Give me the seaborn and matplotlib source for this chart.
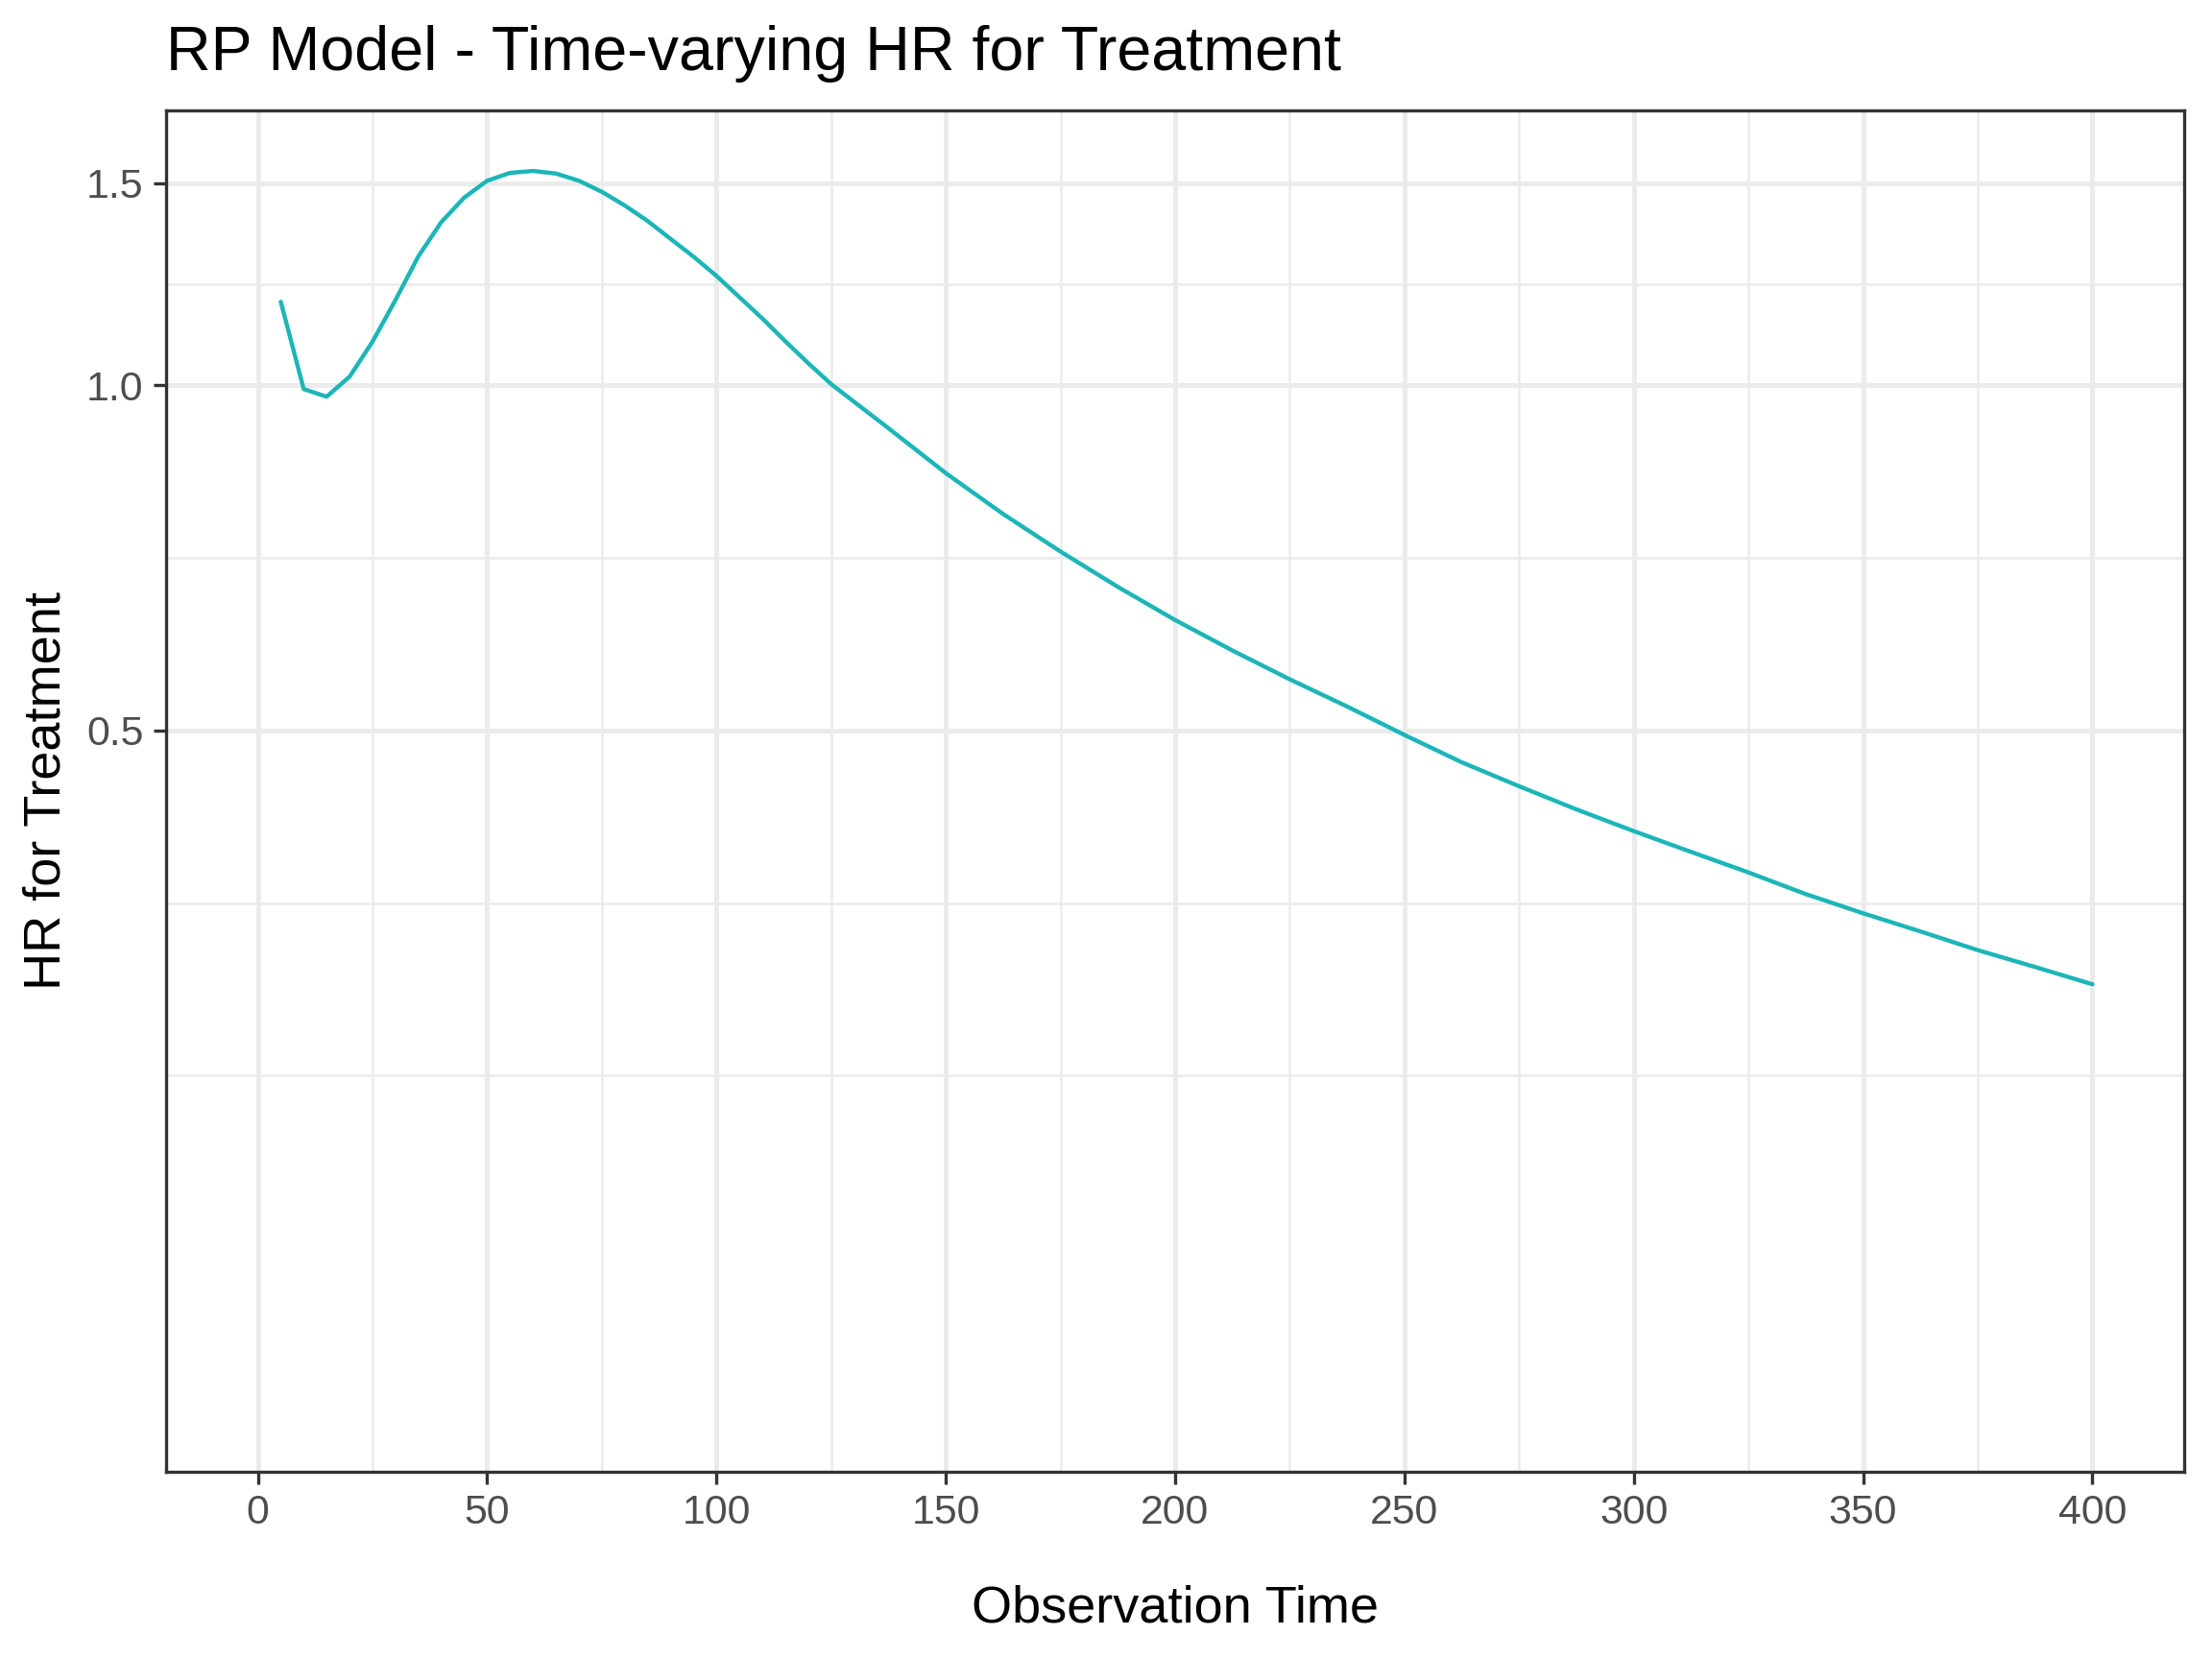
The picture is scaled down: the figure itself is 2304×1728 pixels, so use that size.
import matplotlib
matplotlib.use("Agg")
import pandas as pd
import matplotlib.pyplot as plt
import matplotlib.ticker as mticker
import seaborn as sns

# ------------------- datos

time = [5, 10, 15, 20, 25, 30, 35, 40, 45, 50, 55, 60, 65, 70, 75, 80, 85, 90,
        95, 100, 105, 110, 115, 120, 125, 137.5, 150, 162.5, 175, 187.5, 200,
        212.5, 225, 237.5, 250, 262.5, 275, 287.5, 300, 312.5, 325, 337.5,
        350, 362.5, 375, 387.5, 400]
hr = [1.182, 0.992, 0.977, 1.017, 1.091, 1.186, 1.295, 1.387, 1.457, 1.507,
      1.531, 1.537, 1.529, 1.507, 1.474, 1.434, 1.390, 1.341, 1.294, 1.245,
      1.193, 1.143, 1.092, 1.045, 1.002, 0.917, 0.838, 0.772, 0.716, 0.667,
      0.624, 0.587, 0.554, 0.5246, 0.4955, 0.469, 0.447, 0.4267, 0.4085,
      0.3918, 0.376, 0.360, 0.3464, 0.334, 0.3217, 0.311, 0.3004]

x_major = [0, 50, 100, 150, 200, 250, 300, 350, 400]
x_minor = [25, 75, 125, 175, 225, 275, 325, 375]
y_major = [0.5, 1.0, 1.5]
y_labels = ["0.5", "1.0", "1.5"]
y_minor = [0.25, 0.3536, 0.7071, 1.2247]

df = pd.DataFrame({"time": time, "hr": hr})

sns.set_theme(style="white")
plt.rcParams["font.family"] = ["Liberation Sans", "DejaVu Sans"]

fig = plt.figure(figsize=(7.68, 5.76), dpi=300)
ax = fig.add_axes([0.0751, 0.1131, 0.9123, 0.8206])

sns.lineplot(data=df, x="time", y="hr", color="#1CB5B8", linewidth=1.05, ax=ax)

ax.set_yscale("log")
ax.set_xlim(-20, 420)
ax.set_ylim(0.113, 1.737)

ax.set_xticks(x_major)
ax.set_xticklabels([str(v) for v in x_major])
ax.set_xticks(x_minor, minor=True)
ax.set_yticks(y_major)
ax.set_yticklabels(y_labels)
ax.set_yticks(y_minor, minor=True)
ax.yaxis.set_minor_formatter(mticker.NullFormatter())
ax.xaxis.set_minor_formatter(mticker.NullFormatter())

# grilla estilo theme_bw
ax.grid(which="major", color="#EBEBEB", linewidth=1.2)
ax.grid(which="minor", color="#EBEBEB", linewidth=0.6)
ax.set_axisbelow(True)

ax.tick_params(which="major", length=3.2, width=0.8, color="#333333",
               labelsize=10.3, labelcolor="#4D4D4D", pad=2.5,
               bottom=True, left=True)
ax.tick_params(which="minor", length=0)
for s in ax.spines.values():
    s.set_color("#333333")
    s.set_linewidth(0.8)

ax.set_xlabel("")
ax.set_ylabel("")

fig.text(0.0751, 1 - 73 / 1728, "RP Model - Time-varying HR for Treatment",
         fontsize=15.5, ha="left", va="baseline", color="black")
fig.text(0.5312, 1 - 1690 / 1728, "Observation Time", fontsize=13,
         ha="center", va="baseline", color="black")
fig.text(0.021, 0.5234, "HR for Treatment", fontsize=13, rotation=90,
         ha="center", va="center", color="black")

fig.savefig("out.png", dpi=300, facecolor="white")
